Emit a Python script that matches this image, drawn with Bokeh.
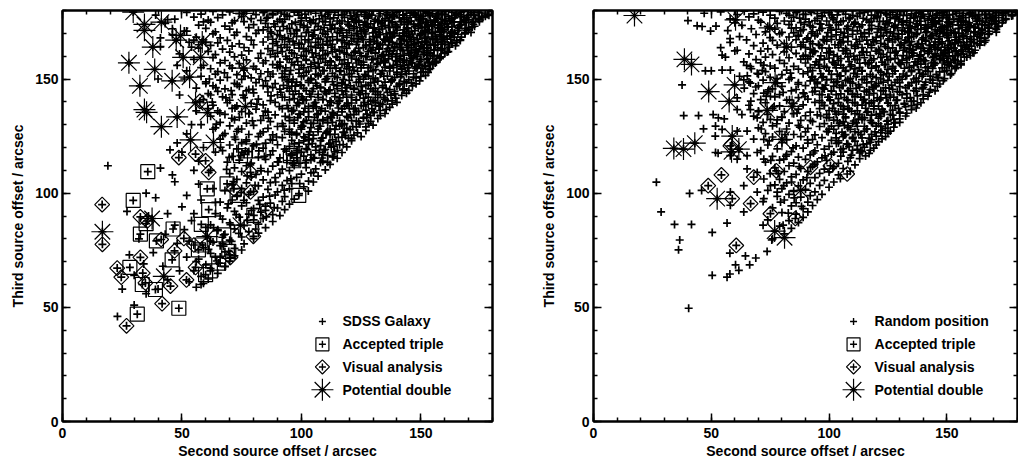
from bokeh.plotting import figure
from bokeh.models import Range1d, LinearAxis, SingleIntervalTicker
from bokeh.layouts import row
from bokeh.embed import file_html
from bokeh.resources import INLINE
from bokeh.core.properties import value

# ---------------- data (arcsec) ----------------
x_label = "Second source offset / arcsec"
y_label = "Third source offset / arcsec"
legend_labels_left = ["SDSS Galaxy", "Accepted triple", "Visual analysis", "Potential double"]
legend_labels_right = ["Random position", "Accepted triple", "Visual analysis", "Potential double"]

# left panel: SDSS galaxies (second offset, third offset)
sdss_sparse = [
    (19,112),(23,46),(30,51),(25,58),(27,92),(35,100),(39,98),(44,91),(50,94),(52,99),(41,111),(46,108),
    (47,105),(41,168),(54,164),(49,143),(45,119),(48,122),(52,126),(55,110),(57,104),(58,97),(54,88),(47,86),
    (43,82),(38,74),(34,69),(30,64),(40,58),(44,62),(49,66),(52,72),(56,70),(58,60),(35,56),(42,68),(48,78),
    (51,84),(55,91),(57,114),(59,120),(58,130),(56,136),(51,150),(48,156),(44,176),(46,172),(39,178),
    (52,171),(55,167),(57,165),(59,175),(60,166),(58,155),(60,148),(62,143),(61,137),(63,128),(64,118),
    (62,110),(63,102),(64,96),(66,90),(65,84),(67,78),(66,72),(68,68),(70,73),(36,90),(32,80),(28,73),
    (60,85),(62,79),(53,79),(50,118),(54,130),(40,150),
]
sdss_dense = [
    (52,179.2),(58,178.4),(63,179.6),(67,178.1),(70,179.4),(74,178.6),(77,179.8),(81,178.2),(84,179.1),(88,178.7),(90,179.7),(93,178.3),(97,179.3),(99,178.0),(103,179.5),(106,178.8),(108,179.9),(111,178.4),(114,179.2),(117,178.1),(119,179.6),(122,178.9),(125,179.4),(127,178.2),(130,179.8),(133,178.6),(136,179.1),(138,178.3),(141,179.7),(144,178.8),(146,179.3),(149,178.0),(152,179.5),(155,178.5),(157,179.9),(160,178.2),(163,179.2),(165,178.7),(168,179.6),(171,178.4),(174,179.3),(177,178.9),
    (47,176.2),(55,177.1),(61,175.8),(65,176.9),(72,175.5),(75,177.3),(79,176.4),(83,175.7),(86,177.0),(91,176.1),(95,177.4),(100,175.6),(102,176.8),(105,175.9),(110,177.2),(112,176.3),(115,175.4),(118,177.0),(121,176.6),(124,175.7),(128,177.3),(131,176.0),(134,175.5),(137,176.9),(139,177.5),(143,176.2),(145,175.3),(148,177.1),(151,176.4),(154,175.8),(156,177.4),(159,176.1),(162,175.6),(164,176.8),(167,177.2),(170,175.9),(173,176.5),(176,177.0),
    (43,174.3),(57,173.6),(62,174.9),(68,173.2),(71,174.6),(76,175.1),(80,173.8),(85,174.4),(89,173.0),(92,175.0),(96,174.1),(101,173.4),(104,174.8),(107,173.1),(109,175.2),(113,173.9),(116,174.5),(120,173.3),(123,174.9),(126,173.7),(129,174.2),(132,175.0),(135,173.5),(138,174.6),(140,173.0),(142,175.1),(147,173.8),(150,174.4),(153,173.2),(156,174.9),(158,173.6),(161,174.1),(164,175.0),(166,173.4),(169,174.7),(172,173.9),
    (51,171.0),(60,172.2),(64,170.6),(70,171.8),(73,170.4),(78,172.5),(82,171.3),(87,170.7),(94,172.0),(98,171.1),(101,172.6),(103,170.5),(108,171.7),(111,170.9),(114,172.3),(117,171.4),(119,170.3),(122,172.1),(125,171.0),(128,172.7),(131,170.8),(134,171.9),(137,170.4),(140,172.4),(143,171.5),(145,170.6),(149,172.2),(152,171.2),(155,170.5),(157,172.5),(160,171.6),(163,170.9),(166,172.0),(169,171.3),(171,170.4),
    (46,169.4),(56,168.3),(63,169.8),(66,168.0),(72,169.2),(77,168.6),(81,170.0),(86,168.4),(90,169.5),(93,168.1),(97,169.9),(100,168.7),(105,169.3),(107,167.9),(110,169.6),(113,168.5),(116,170.0),(119,168.2),(121,169.1),(124,167.8),(127,169.7),(130,168.6),(133,169.4),(136,168.0),(139,169.8),(141,168.9),(144,169.2),(147,168.1),(150,169.6),(153,168.4),(155,167.8),(158,169.3),(161,168.7),(164,169.9),(167,168.3),
    (53,166.1),(59,167.2),(65,165.8),(69,166.9),(74,165.4),(79,167.0),(84,166.2),(88,165.5),(92,167.3),(95,166.4),(99,165.7),(103,167.1),(106,166.0),(109,165.3),(112,166.8),(115,167.4),(118,165.9),(121,166.6),(123,165.2),(126,167.2),(129,166.3),(132,165.6),(135,167.0),(138,166.1),(140,165.4),(143,166.9),(146,167.3),(149,165.8),(152,166.5),(154,165.3),(157,167.1),(160,166.2),(163,165.6),(165,166.8),
    (41,164.2),(57,163.5),(62,164.7),(67,163.1),(71,164.4),(76,163.8),(80,165.0),(86,163.3),(90,164.6),(94,163.9),(97,164.9),(101,163.2),(104,164.3),(108,163.6),(111,164.8),(114,163.0),(117,164.1),(120,165.0),(124,163.4),(127,164.5),(130,163.7),(133,164.9),(136,163.2),(139,164.2),(142,163.8),(145,164.7),(148,163.1),(150,164.4),(153,163.6),(156,164.9),(159,163.3),(162,164.0),
    (49,161.0),(61,162.1),(64,160.7),(70,161.8),(75,160.5),(78,162.3),(83,161.2),(87,160.8),(92,162.0),(96,161.4),(100,160.4),(103,162.4),(106,161.1),(110,160.6),(113,161.9),(116,162.2),(119,160.9),(122,161.6),(125,160.3),(128,162.0),(131,161.3),(134,160.6),(137,162.3),(140,161.0),(143,160.5),(146,161.8),(148,162.4),(151,160.8),(154,161.5),(157,160.4),(160,161.2),
    (55,158.6),(63,159.4),(68,158.1),(72,159.7),(77,158.4),(82,159.1),(85,158.0),(89,159.8),(94,158.7),(98,159.3),(102,158.2),(105,159.6),(108,158.9),(112,158.0),(115,159.5),(118,158.5),(121,159.2),(124,157.9),(127,159.7),(130,158.6),(132,159.1),(135,158.3),(138,159.8),(141,158.8),(144,158.0),(147,159.4),(150,158.5),(153,159.0),(156,157.8),(158,158.9),
    (59,156.0),(66,157.1),(70,155.8),(74,156.7),(80,155.5),(84,157.0),(88,156.3),(91,155.6),(96,157.2),(100,156.1),(104,155.4),(107,156.9),(110,157.3),(114,155.9),(117,156.5),(120,155.3),(123,157.0),(126,156.2),(129,155.7),(132,156.8),(135,157.2),(137,155.5),(140,156.4),(143,155.8),(146,157.1),(149,156.0),(152,155.4),(155,156.6),
    (52,153.6),(62,154.5),(65,153.2),(71,154.8),(76,153.9),(81,154.3),(86,153.1),(90,154.9),(93,153.5),(99,154.2),(102,153.0),(106,154.6),(109,153.7),(112,154.8),(116,153.3),(119,154.4),(122,153.8),(125,154.9),(128,153.2),(131,154.1),(134,153.6),(137,154.7),(140,153.0),(142,154.3),(145,153.5),(148,154.6),(151,153.1),(153,152.9),
    (58,151.2),(64,152.1),(69,150.7),(73,151.9),(79,150.5),(83,152.3),(87,151.1),(92,150.6),(95,152.0),(101,151.4),(104,150.3),(108,152.2),(111,151.0),(115,150.6),(118,151.8),(121,152.4),(124,150.9),(127,151.5),(130,150.4),(133,152.1),(136,151.3),(139,150.7),(142,151.9),(144,152.3),(147,150.8),(150,151.1),
    (60,148.7),(66,149.5),(72,148.1),(75,149.8),(81,148.4),(85,149.2),(89,148.0),(94,149.6),(98,148.6),(103,149.3),(106,148.2),(110,149.7),(113,148.8),(117,148.0),(120,149.4),(123,148.5),(126,149.9),(129,148.3),(132,149.1),(135,148.6),(138,149.5),(141,148.1),(143,149.0),(146,148.4),(148,147.9),
    (56,146.0),(63,147.0),(68,145.7),(74,146.8),(78,145.4),(84,147.1),(88,146.2),(91,145.6),(96,146.9),(100,147.2),(105,145.8),(108,146.4),(112,145.3),(115,147.0),(119,146.1),(122,145.5),(125,146.7),(128,147.2),(131,145.9),(134,146.3),(137,145.4),(140,146.8),(143,145.7),(145,145.0),
    (61,143.6),(65,144.6),(71,143.2),(77,144.8),(80,143.9),(86,144.3),(90,143.1),(95,144.7),(99,143.5),(102,144.9),(107,143.3),(110,144.4),(114,143.7),(117,144.8),(121,143.0),(124,144.2),(127,143.6),(130,144.7),(133,143.2),(136,144.1),(139,143.5),(142,142.8),
    (59,141.0),(67,142.2),(70,140.7),(76,141.8),(82,141.2),(87,140.5),(92,142.0),(97,141.4),(101,140.6),(104,142.3),(109,141.1),(112,140.4),(116,141.7),(119,142.1),(123,140.8),(126,141.6),(129,140.3),(132,141.9),(135,141.2),(138,140.5),(140,139.8),
    (63,138.5),(69,139.6),(73,138.2),(79,139.3),(84,138.7),(89,139.8),(94,138.4),(99,139.2),(103,138.0),(106,139.7),(111,138.6),(115,139.3),(118,138.1),(121,139.5),(125,138.4),(128,139.0),(131,138.3),(134,138.9),(137,137.6),
    (65,136.0),(71,137.1),(75,135.7),(81,136.8),(86,135.5),(92,137.0),(96,136.2),(101,135.6),(105,137.2),(108,136.1),(113,135.4),(117,136.9),(120,137.1),(123,135.8),(127,136.4),(130,135.5),(133,136.2),(135,134.9),
    (62,133.7),(68,134.5),(74,133.2),(78,134.8),(84,133.9),(89,134.3),(95,133.1),(99,134.6),(103,133.4),(107,134.8),(111,133.0),(115,134.2),(119,133.6),(122,134.5),(126,133.2),(129,133.9),(132,132.7),
    (66,131.0),(72,132.1),(77,130.7),(83,131.9),(87,131.3),(92,130.5),(97,132.0),(101,131.2),(105,130.6),(109,132.2),(113,131.0),(117,130.4),(121,131.8),(124,131.3),(128,130.6),(130,129.8),
    (64,128.6),(70,129.5),(75,128.1),(80,129.7),(86,128.4),(90,129.2),(95,128.0),(100,129.6),(104,128.7),(108,129.3),(112,128.1),(116,129.4),(119,128.5),(123,129.0),(127,127.5),
    (68,126.1),(73,127.0),(78,125.7),(84,126.8),(88,125.5),(93,127.1),(98,126.2),(103,125.6),(107,126.9),(111,127.2),(114,125.8),(118,126.5),(122,125.4),(125,124.8),
    (66,123.7),(72,124.6),(77,123.3),(82,124.8),(87,123.5),(92,124.3),(96,123.1),(101,124.7),(105,123.9),(109,124.2),(113,123.4),(117,124.5),(121,123.0),
    (70,121.1),(75,122.1),(80,120.7),(85,121.9),(90,121.2),(95,120.5),(99,122.0),(103,121.4),(108,120.8),(112,121.9),(116,121.2),(119,120.3),
    (67,118.6),(73,119.4),(78,118.2),(84,119.7),(88,118.5),(93,119.3),(98,118.0),(102,119.5),(106,118.8),(110,119.2),(114,118.1),(117,117.8),
    (71,116.1),(76,117.0),(82,115.8),(87,116.8),(91,115.5),(96,117.1),(101,116.2),(105,115.6),(109,116.9),(113,115.9),(115,115.3),
    (69,113.6),(74,114.5),(79,113.2),(85,114.8),(90,113.7),(94,114.3),(99,113.1),(104,114.6),(108,113.4),(112,112.6),
    (72,111.1),(77,112.0),(83,110.8),(88,111.8),(92,110.5),(97,112.1),(102,111.2),(106,110.6),(110,110.2),
    (70,108.6),(75,109.5),(81,108.2),(86,109.4),(91,108.7),(95,109.9),(100,108.3),(104,108.9),(107,107.5),
    (73,106.0),(79,107.1),(84,105.8),(89,106.8),(94,105.5),(98,106.9),(103,105.3),(105,104.9),
    (71,103.6),(77,104.5),(82,103.2),(87,104.6),(92,103.4),(96,104.2),(101,102.8),
    (68,101.2),(75,102.0),(80,100.8),(86,101.7),(90,100.6),(95,101.9),(99,99.8),
    (73,98.6),(78,99.5),(84,98.3),(89,99.2),(93,98.5),(97,97.4),
    (66,96.1),(71,97.0),(77,95.8),(82,96.8),(87,95.6),(92,96.4),(95,95.2),
    (69,93.6),(75,94.4),(80,93.2),(85,94.3),(90,93.5),(93,92.8),
    (64,91.0),(72,92.0),(78,90.8),(83,91.7),(88,90.6),(91,90.2),
    (67,88.6),(74,89.5),(80,88.3),(84,88.9),(88,87.6),
    (62,86.1),(70,87.0),(76,85.8),(82,86.4),(85,84.9),
    (65,83.6),(72,84.4),(78,83.2),(82,82.5),
    (60,81.2),(68,82.0),(75,80.8),(80,80.1),
    (63,78.6),(70,79.4),(76,77.8),
    (59,76.1),(66,77.0),(72,75.8),(75,75.1),
    (62,73.6),(68,74.3),(72,72.6),
    (57,71.1),(64,72.0),(70,70.2),
    (60,68.6),(66,69.3),(68,67.8),
    (55,66.1),(62,67.0),(65,64.9),
    (58,63.6),(61,62.4),(53,61.2),(59,60.5),(56,58.8),
]
sdss_dense_b = [
    (120.5,177.7),(123.5,178.2),(126.5,177.4),(129.5,178.0),(132.5,177.6),(135.5,178.3),(138.5,177.5),(142.5,178.1),(145.5,177.7),(147.5,178.4),(150.5,177.3),(153.5,178.0),(156.5,177.6),(158.5,178.2),(161.5,177.5),(166.5,178.1),(169.5,177.7),(172.5,178.0),(175.5,177.4),(178.5,177.9),
    (119.5,175.0),(122.5,175.6),(126.5,174.9),(130.5,175.3),(133.5,174.7),(136.5,175.5),(141.5,175.1),(144.5,174.6),(149.5,175.4),(152.5,174.8),(155.5,175.2),(158.5,174.5),(160.5,175.4),(163.5,174.9),(168.5,175.5),(171.5,174.7),(174.5,175.1),
    (124.5,172.5),(127.5,173.1),(130.5,172.4),(133.5,173.0),(136.5,172.6),(139.5,173.2),(144.5,172.3),(147.5,172.9),(151.5,172.5),(154.5,173.1),(158.5,172.4),(161.5,173.0),(165.5,172.6),(168.5,172.2),(171.5,172.8),
    (123.5,170.0),(126.5,170.6),(132.5,170.3),(135.5,169.8),(138.5,170.5),(142.5,170.1),(146.5,169.7),(151.5,170.4),(154.5,169.9),(159.5,170.6),(162.5,170.1),(165.5,169.6),(168.5,170.3),
    (125.5,167.5),(131.5,168.1),(134.5,167.4),(137.5,168.0),(141.5,167.6),(145.5,168.2),(148.5,167.3),(151.5,167.9),(156.5,167.5),(159.5,168.1),(162.5,167.4),(166.5,167.2),
    (128.5,165.0),(131.5,165.6),(136.5,164.9),(141.5,165.4),(144.5,164.8),(147.5,165.5),(151.5,165.1),(155.5,164.7),(158.5,165.3),(161.5,164.9),(164.5,164.6),
    (129.5,162.5),(132.5,163.1),(138.5,162.4),(141.5,163.0),(144.5,162.6),(149.5,163.2),(152.5,162.3),(155.5,162.9),(158.5,162.5),(161.5,162.0),
    (133.5,160.0),(136.5,160.6),(139.5,159.9),(145.5,160.4),(148.5,159.8),(152.5,160.5),(155.5,160.1),(158.5,159.7),
    (134.5,157.5),(139.5,158.1),(142.5,157.4),(145.5,158.0),(149.5,157.6),(153.5,157.2),(156.5,157.3),
    (138.5,155.0),(141.5,155.6),(144.5,154.9),(147.5,155.3),(150.5,154.7),(153.5,154.2),
]
sdss_dense_c = [
    (84.5,179.4),(88,178.1),(91.5,178.9),(94,177.6),(98.5,179.2),(101.5,178.4),(104,179.7),(108.5,177.9),(111.5,179.3),(115.5,178.0),(118,178.9),(123,177.6),(126.5,179.2),(128.5,178.4),(133,179.7),(136,177.9),(140,179.3),(142.5,178.0),(147.5,178.9),(151,177.6),(153,179.2),(157.5,178.4),(160.5,179.7),(164.5,177.9),(167,179.3),(172,178.0),(174.5,178.9),(178,178.3),
    (85.5,176.6),(90,175.2),(93,176.1),(97.5,174.9),(100,176.7),(103.5,175.5),(107.5,176.3),(110,175.0),(113.5,176.8),(117,175.4),(121.5,176.2),(124,174.9),(127.5,176.7),(132,175.5),(135,176.3),(138,175.0),(141,176.8),(146,175.4),(149,176.2),(152,174.9),(157,176.7),(160,175.5),(163,176.3),(166.5,175.0),(169,176.8),(172,175.3),(174.5,175.9),
    (86,172.6),(88.5,174.1),(92.5,173.0),(95,172.2),(99.5,173.9),(102.5,172.7),(106,174.2),(109.5,172.5),(112,173.6),(116.5,172.2),(119.5,174.0),(122,172.8),(127,173.9),(130,172.3),(133.5,174.1),(137,172.6),(139.5,173.8),(144,172.4),(147,174.0),(150.5,172.7),(153,173.6),(157.5,172.3),(160,174.1),(163,172.8),(166.5,173.7),(170,172.5),(172.5,173.1),
    (84,171.5),(87.5,170.1),(91,171.2),(95.5,169.9),(98,171.6),(102,170.3),(105.5,171.4),(109,170.0),(112.5,171.7),(115,170.4),(120,171.3),(123,169.9),(126,171.5),(130,170.2),(132.5,171.6),(137,170.1),(140,171.4),(143,170.0),(147.5,171.2),(150,169.9),(153.5,171.5),(156,170.3),(159,171.6),(163,170.1),(165.5,171.2),(168.5,169.8),
    (88,167.4),(91,168.9),(94.5,167.6),(98,168.7),(101.5,167.2),(104.5,168.8),(108,167.5),(111,168.4),(115,167.1),(117.5,168.9),(122,167.6),(125,168.5),(128.5,167.3),(131.5,168.8),(135,167.4),(138,168.6),(142,167.1),(145,168.7),(148.5,167.5),(152,168.4),(155,167.2),(158.5,168.8),(161,167.5),(164,168.3),(166.5,166.9),
    (89.5,166.4),(93,165.0),(96.5,166.6),(100,165.3),(103,166.2),(107,164.9),(110.5,166.5),(113,165.2),(117,166.7),(120,165.4),(123.5,166.3),(127,164.9),(130.5,166.6),(134,165.1),(137,166.4),(141,165.0),(144,166.5),(147,165.2),(150.5,166.3),(154,164.8),(157,166.1),(160,165.3),(163,165.9),
    (88,162.4),(91.5,163.8),(95,162.6),(99,163.5),(102,162.1),(106,163.7),(109,162.5),(112.5,163.9),(116,162.3),(119,163.4),(122.5,162.2),(126,163.8),(129,162.6),(132.5,163.5),(135.5,162.1),(139,163.6),(142.5,162.4),(146,163.7),(149,162.2),(152.5,163.4),(155.5,162.5),(158.5,163.2),(161,161.8),
    (90,161.3),(93.5,159.9),(97,161.1),(101,160.0),(104.5,161.5),(107.5,160.2),(111,161.2),(114.5,159.8),(118,161.4),(121,160.1),(124.5,161.3),(127.5,159.9),(131,161.5),(134.5,160.2),(138,161.0),(141.5,159.8),(145,161.2),(148,160.0),(151.5,161.4),(155,160.1),(158,159.6),
    (91,157.4),(95,158.8),(98.5,157.6),(102,158.6),(105.5,157.3),(109,158.9),(112.5,157.5),(116,158.4),(119.5,157.1),(123,158.7),(126,157.4),(129.5,158.5),(133,157.2),(136.5,158.8),(140,157.6),(143,158.3),(146.5,157.0),(150,158.6),(153,157.4),(156,157.0),
    (90,156.3),(93.5,154.9),(97,156.2),(101,155.0),(104,156.5),(107.5,155.2),(111,156.1),(114.5,154.8),(118,156.4),(121.5,155.1),(125,156.2),(128,154.9),(131.5,156.5),(135,155.2),(138.5,156.0),(142,154.7),(145,156.2),(148.5,155.0),(151.5,155.8),(154,154.6),
    (92,152.4),(95.5,153.8),(99,152.6),(103,153.5),(106,152.1),(109.5,153.7),(113,152.5),(116.5,153.6),(120,152.2),(123.5,153.4),(126.5,152.0),(130,153.7),(133.5,152.4),(137,153.5),(140,152.1),(143.5,153.3),(147,152.3),(150,152.9),(152,151.6),
    (93,151.1),(96.5,149.8),(100,151.0),(104,149.9),(107,151.4),(110.5,150.1),(114,151.2),(117.5,149.7),(121,151.0),(124.5,149.9),(128,151.3),(131,150.0),(134.5,151.2),(138,149.8),(141.5,150.9),(145,149.7),(148,150.5),(149.5,149.2),
    (92.5,147.2),(96,148.6),(99.5,147.4),(103,148.5),(106.5,147.1),(110,148.7),(113.5,147.5),(117,148.4),(120.5,147.0),(124,148.6),(127,147.3),(130.5,148.5),(134,147.1),(137.5,148.7),(141,147.4),(144,148.3),(146.5,147.0),
    (94,146.0),(97.5,144.7),(101,145.9),(104.5,144.6),(108,146.1),(111.5,144.9),(115,145.8),(118.5,144.5),(122,146.0),(125.5,144.8),(129,145.7),(132,144.4),(135.5,145.9),(139,144.6),(142.5,145.2),(144,143.8),
    (93,142.0),(96.5,143.3),(100,142.2),(103.5,143.4),(107,142.0),(110.5,143.5),(114,142.3),(117.5,143.2),(121,141.9),(124.5,143.4),(128,142.1),(131,143.3),(134.5,142.0),(137.5,142.9),(139.5,141.6),
    (95,140.9),(98.5,139.6),(102,140.8),(105.5,139.5),(109,141.0),(112.5,139.8),(116,140.7),(119.5,139.4),(123,140.9),(126.5,139.7),(130,140.6),(133,139.3),(136,140.4),(138,139.0),
    (94.5,137.1),(98,138.4),(101.5,137.2),(105,138.5),(108.5,137.0),(112,138.3),(115.5,137.3),(119,138.6),(122.5,137.1),(126,138.2),(129.5,137.0),(132.5,138.1),(135.5,136.7),
    (96,135.8),(99.5,134.5),(103,135.7),(106.5,134.4),(110,135.9),(113.5,134.7),(117,135.6),(120.5,134.3),(124,135.8),(127.5,134.6),(130.5,135.3),(133,134.0),
    (95,131.8),(98.5,133.1),(102,131.9),(105.5,133.2),(109,131.7),(112.5,133.0),(116,131.8),(119.5,133.1),(123,131.6),(126,132.8),(129,131.5),
    (97,130.7),(100.5,129.4),(104,130.6),(107.5,129.3),(111,130.8),(114.5,129.6),(118,130.5),(121.5,129.2),(124.5,130.3),(127,129.0),
    (96,126.7),(100,128.0),(103.5,126.8),(107,128.1),(110.5,126.6),(114,127.9),(117.5,126.7),(120.5,127.8),(123.5,126.4),
    (98,125.5),(101.5,124.2),(105,125.4),(108.5,124.1),(112,125.6),(115.5,124.4),(118.5,125.2),(121,123.9),
    (97,121.6),(101,122.9),(104.5,121.7),(108,123.0),(111.5,121.5),(114.5,122.6),(117.5,121.3),
    (99,120.4),(102.5,119.1),(106,120.3),(109.5,119.0),(112.5,120.1),(115,118.8),
    (96,116.7),(100,118.0),(104,116.8),(107.5,117.9),(111,116.5),(113.5,116.0),
    (98,115.5),(102,114.2),(105.5,115.3),(109,114.0),(111,113.5),
    (141,179.9),(144,176.9),(147,179.0),(150,176.0),(153,178.6),(156,175.7),(159,178.9),(162,176.4),(165,178.4),(168,175.9),(171,179.2),(174,176.3),(177,177.5),(179.5,179.6),
    (143,173.9),(146,170.9),(149,173.4),(152,170.6),(155,173.7),(158,170.9),(161,172.7),(164,170.3),(167,173.8),(170,171.8),
    (142.5,168.9),(146,166.4),(149.5,169.1),(152.5,166.0),(156,168.6),(159,166.4),(162,168.9),(165,166.0),
    (144,163.9),(147.5,161.4),(151,163.6),(154,161.0),(157,163.7),(160,161.4),
    (146,158.9),(149.5,156.5),(152.5,158.5),(155,156.3),
]
sdss_mid = [
    (61.5,150.0),(64.2,146.2),(67.8,152.7),(70.6,144.9),(73.1,147.6),(76.4,151.3),(79.7,145.5),(82.3,149.9),(85.8,146.8),(88.1,152.2),(91.4,144.2),(94.6,148.8),
    (62.7,139.9),(65.9,135.2),(68.4,141.7),(72.2,137.3),(75.6,142.9),(78.1,134.9),(81.4,139.0),(84.9,135.9),(87.3,142.6),(90.8,137.9),(93.2,133.6),
    (64.4,130.2),(67.1,125.3),(70.9,132.8),(73.6,127.9),(76.9,122.7),(79.5,131.7),(82.8,126.1),(86.2,132.9),(89.6,124.6),(92.3,129.4),(95.1,125.9),
    (66.2,120.1),(69.8,115.7),(72.4,123.6),(75.1,117.9),(78.6,112.4),(81.2,121.3),(84.5,116.1),(87.9,123.2),(90.4,113.7),(93.7,118.4),(96.3,112.8),
    (68.7,110.4),(71.5,105.1),(74.8,100.2),(77.3,107.6),(80.6,103.4),(83.1,109.8),(86.7,98.7),(89.2,104.9),(92.8,101.3),(95.6,106.3),
    (69.4,95.3),(72.7,90.6),(75.9,96.9),(79.1,92.4),(82.6,95.1),(85.3,89.6),(88.6,93.7),
    (63.2,84.9),(66.9,80.7),(70.3,86.2),(73.8,82.4),(77.4,88.1),(80.9,84.3),
    (61.1,75.4),(64.6,70.3),(67.4,76.8),(70.8,78.9),
    (97.4,146.9),(100.6,141.2),(103.9,149.6),(106.2,137.8),(109.7,144.6),(112.1,133.4),(115.8,140.2),(118.3,147.5),(121.9,136.9),(124.6,143.1),(127.3,133.1),(130.9,139.9),
    (96.8,136.3),(99.9,128.7),(103.2,123.3),(106.8,131.9),(110.3,126.2),(113.6,120.6),(116.9,129.9),(119.7,124.1),(98.2,118.8),(101.7,113.3),(105.1,109.1),(108.6,115.4),(99.3,104.2),(102.9,100.9),
]
sdss_triple = [
    (35.7,109.4),(29.6,96.8),(61.2,92.8),(76.6,118.5),(74.5,116.4),(60.6,101.9),(68.9,104.1),(73.1,99.0),
    (82.2,118.5),(95.4,116.4),(96.8,114.2),(98.9,99.0),(80.1,90.3),(32.6,82.1),(35.0,86.7),(46.3,84.3),
    (58.1,86.3),(67.5,81.7),(39.3,79.1),(45.9,70.8),(56.9,75.2),(59.9,64.3),(61.9,66.0),(65.4,69.4),
    (69.6,74.5),(28.2,67.5),(33.4,60.0),(38.9,57.8),(48.7,49.6),(31.3,47.0),(58.5,77.3),
]
sdss_visual = [
    (16.6,95.0),(32.6,89.6),(48.7,115.6),(55.7,117.1),(59.9,114.2),(57.5,140.2),(61.2,109.1),(71.7,101.9),
    (78.7,100.5),(16.7,77.6),(32.6,71.9),(22.9,67.2),(24.6,63.2),(33.6,65.0),(34.7,60.7),(45.2,59.3),
    (41.7,51.6),(26.8,41.9),(51.9,62.0),(46.9,74.7),(50.8,80.2),(55.0,77.3),(41.3,79.7),(55.7,67.5),
    (70.3,71.9),(79.9,81.1),(35.5,87.8),(78.7,109.1),(85.0,92.5),
]
sdss_double = [
    (29.6,179.3),(34.3,173.9),(34.3,171.3),(41.4,174.9),(49.4,169.1),(47.6,167.0),(58.5,166.2),(37.8,164.0),
    (50.5,159.5),(57.8,159.5),(27.8,157.1),(38.6,154.2),(45.9,149.2),(53.2,150.8),(32.4,147.0),(55.7,139.6),
    (34.3,136.6),(35.2,135.4),(48.0,133.4),(60.7,135.3),(41.4,129.1),(53.6,123.3),(63.2,122.2),(75.8,178.7),
    (75.8,154.8),(76.6,137.9),(37.5,88.9),(16.7,83.1),(42.4,63.6),(60.6,81.0),(74.5,86.0),
]

# right panel: random positions
rand_sparse = [
    (34.4,86.3),(41.6,86.3),(36.6,79.5),(36.1,75.2),(50.4,82.8),(56.7,86.9),(57.9,73.7),(60.3,68.6),
    (61.7,66.2),(64.5,72.5),(66.3,68.6),(68.9,71.6),(73.7,74.5),(50.4,64.0),(56.7,63.2),(57.9,64.6),
    (40.4,49.6),(75.7,79.5),(80.5,86.0),(40.1,175.6),(49.7,171.0),(46.1,173.0),(44.0,173.3),(58.0,167.7),
    (37.6,147.4),(47.5,153.6),(38.3,134.0),(44.6,134.0),(50.8,134.4),(53.0,133.0),(55.5,132.5),(46.7,128.2),
    (51.7,125.0),(40.8,99.9),(26.7,104.8),(28.7,91.8),(45.9,101.2),(52.9,117.5),(66.6,155.4),
    (54.6,160.5),(61.0,162.6),(54.6,153.9),(58.1,153.9),(63.8,157.5),(69.5,152.5),(72.3,156.1),(63.8,149.6),
    (66.6,148.2),(72.3,143.8),(75.1,142.4),(61.0,136.6),(66.6,136.6),(69.5,133.0),(75.1,132.3),(51.8,129.4),
    (54.6,127.9),(61.0,127.2),(65.2,127.2),(72.3,123.6),(51.8,117.8),(58.1,116.4),(61.0,114.9),(65.2,116.4),
    (69.5,117.8),(72.3,114.9),(65.2,110.6),(69.5,109.1),(72.3,106.2),(75.1,103.3),(63.8,103.3),(58.1,100.5),
    (58.1,94.7),(63.8,91.8),(69.5,100.5),(72.3,97.6),(78.0,100.5),(80.8,103.3),(80.8,114.9),
]
rand_dense = [
    (47,178.8),(54,179.4),(61,178.2),(64,179.7),(68,178.5),(72,179.3),(75,178.0),(79,179.6),(82,178.7),(86,179.1),(89,178.3),(92,179.8),(95,178.6),(98,179.2),(101,178.1),(104,179.5),(107,178.4),(110,179.9),(113,178.7),(115,179.2),(118,178.0),(121,179.6),(124,178.8),(127,179.3),(129,178.2),(132,179.7),(135,178.5),(138,179.1),(140,178.3),(143,179.8),(146,178.6),(149,179.4),(151,178.1),(154,179.5),(157,178.7),(160,179.2),(162,178.0),(165,179.6),(168,178.4),(171,179.0),(174,178.6),(176,179.5),(179,179.3),
    (58,176.3),(66,177.2),(70,175.8),(77,176.7),(81,175.4),(85,177.1),(90,176.2),(94,175.6),(97,177.3),(102,176.0),(106,175.5),(109,176.9),(112,177.4),(116,175.9),(119,176.5),(123,175.3),(126,177.0),(130,176.2),(133,175.6),(136,176.8),(139,177.2),(142,175.8),(144,176.4),(147,175.3),(150,177.1),(153,176.1),(156,175.5),(158,176.9),(161,177.3),(164,175.7),(167,176.4),(170,175.4),(172,176.9),(175,176.1),
    (52,173.2),(60,174.6),(63,173.5),(71,174.9),(74,173.1),(78,174.4),(83,173.8),(88,174.7),(92,173.3),(96,174.2),(100,173.6),(103,174.8),(108,173.2),(111,174.3),(114,173.7),(117,174.9),(121,173.0),(125,174.4),(128,173.6),(131,174.8),(134,173.3),(137,174.1),(141,173.7),(145,174.6),(148,173.1),(151,174.3),(155,173.6),(157,174.9),(160,173.4),(163,174.0),(166,173.5),(169,174.4),(172,173.2),
    (57,171.2),(67,172.0),(73,170.6),(77,171.8),(80,170.4),(84,172.3),(88,171.1),(93,170.7),(97,172.2),(101,171.4),(105,170.5),(108,171.9),(112,171.1),(115,170.3),(118,172.1),(122,171.5),(126,170.6),(129,172.4),(132,171.0),(135,170.4),(139,171.8),(142,172.3),(146,170.9),(149,171.6),(152,170.3),(155,172.0),(158,171.2),(162,170.6),(165,171.8),(168,170.9),(171,170.5),
    (62,168.6),(69,169.5),(75,168.1),(79,169.8),(83,168.4),(87,169.2),(91,168.0),(95,169.7),(99,168.6),(103,169.3),(106,168.1),(110,169.6),(114,168.5),(117,169.9),(120,168.2),(123,169.1),(127,168.7),(131,169.6),(134,168.3),(137,169.4),(140,168.0),(144,169.2),(147,168.6),(150,169.7),(154,168.3),(157,169.0),(160,168.5),(163,169.5),(166,167.9),
    (58,166.0),(65,167.1),(72,165.7),(76,166.9),(81,165.5),(86,167.2),(89,166.1),(93,165.4),(98,166.8),(101,167.3),(105,165.8),(108,166.5),(112,165.2),(116,167.0),(119,166.3),(122,165.6),(125,166.9),(128,167.3),(132,165.8),(135,166.4),(138,165.3),(141,167.0),(145,166.2),(148,165.5),(151,166.7),(154,167.1),(157,165.9),(160,166.3),(163,165.4),
    (54,163.7),(68,164.6),(74,163.2),(78,164.8),(84,163.9),(88,164.3),(92,163.1),(96,164.7),(100,163.5),(104,164.9),(107,163.3),(111,164.4),(114,163.7),(118,164.8),(121,163.0),(124,164.2),(127,163.6),(130,164.7),(134,163.2),(137,164.1),(140,163.5),(143,164.6),(146,163.1),(149,164.0),(152,163.6),(156,164.5),(159,163.3),(162,162.6),
    (60,162.3),(66,161.0),(71,162.2),(76,160.7),(81,161.9),(86,161.2),(90,160.5),(94,162.0),(99,161.4),(102,160.6),(106,162.3),(109,161.1),(113,160.4),(116,161.8),(120,162.2),(123,160.8),(126,161.6),(129,160.3),(133,161.9),(136,161.3),(139,160.6),(142,162.1),(145,161.0),(148,160.4),(151,161.7),(154,162.2),(157,160.9),(160,160.3),
    (56,159.6),(69,158.5),(73,159.6),(79,158.2),(83,159.3),(88,158.7),(92,159.8),(96,158.4),(100,159.2),(104,158.0),(108,159.7),(111,158.6),(115,159.3),(118,158.1),(122,159.5),(125,158.4),(128,159.0),(131,158.3),(134,159.6),(138,158.8),(141,158.0),(144,159.4),(147,158.5),(150,159.1),(153,158.2),(156,157.8),
    (65,156.0),(71,157.1),(75,155.7),(81,156.8),(85,155.5),(90,157.0),(94,156.2),(98,155.6),(102,157.2),(105,156.1),(109,155.4),(113,156.9),(117,157.1),(120,155.8),(124,156.4),(127,155.5),(130,156.8),(133,157.2),(136,155.9),(139,156.5),(142,155.3),(145,156.7),(149,157.0),(152,155.6),(154,155.0),
    (50,153.6),(67,154.5),(73,153.2),(77,154.8),(82,153.9),(87,154.3),(91,153.1),(96,154.7),(100,153.5),(103,154.9),(107,153.3),(111,154.4),(114,153.7),(118,154.8),(122,153.0),(125,154.2),(128,153.6),(132,154.7),(135,153.2),(138,154.1),(141,153.5),(144,154.6),(147,153.1),(150,153.8),(152,152.4),
    (62,151.2),(70,152.1),(75,150.7),(80,151.9),(84,150.5),(89,152.3),(93,151.1),(97,150.6),(101,152.0),(105,151.4),(109,150.3),(112,152.2),(116,151.0),(120,150.6),(123,151.8),(127,152.3),(130,150.9),(133,151.5),(137,150.4),(140,152.1),(143,151.3),(146,150.7),(149,150.2),
    (66,148.7),(72,149.5),(78,148.1),(83,149.8),(87,148.4),(92,149.2),(95,148.0),(99,149.6),(103,148.6),(107,149.3),(110,148.2),(114,149.7),(118,148.8),(121,148.0),(125,149.4),(128,148.5),(131,149.9),(135,148.3),(138,149.1),(141,148.6),(144,149.5),(147,147.8),
    (64,146.0),(70,147.0),(76,145.7),(80,146.8),(86,145.4),(90,147.1),(94,146.2),(98,145.6),(102,146.9),(106,147.2),(109,145.8),(113,146.4),(117,145.3),(120,147.0),(124,146.1),(127,145.5),(130,146.7),(134,147.2),(137,145.9),(140,146.3),(143,145.4),(145,144.8),
    (68,143.6),(74,144.6),(79,143.2),(84,144.8),(89,143.9),(93,144.3),(97,143.1),(101,144.7),(105,143.5),(108,144.9),(112,143.3),(116,144.4),(119,143.7),(123,144.8),(126,143.0),(130,144.2),(133,143.6),(137,144.7),(140,143.2),(142,142.5),
    (61,141.7),(71,141.0),(77,142.2),(82,140.7),(87,141.8),(91,141.2),(96,140.5),(100,142.0),(104,141.4),(108,140.6),(111,142.3),(115,141.1),(119,140.4),(122,141.7),(126,142.1),(129,140.8),(133,141.6),(136,140.3),(139,139.6),
    (66,138.5),(73,139.6),(79,138.2),(85,139.3),(89,138.7),(94,139.8),(98,138.4),(102,139.2),(106,138.0),(110,139.7),(114,138.6),(117,139.3),(121,138.1),(125,139.5),(128,138.4),(132,139.0),(135,138.3),(137,137.3),
    (70,136.0),(76,137.1),(81,135.7),(87,136.8),(92,135.5),(96,137.0),(100,136.2),(104,135.6),(108,137.2),(112,136.1),(116,135.4),(119,136.9),(123,135.8),(127,136.4),(130,135.5),(133,135.0),
    (63,134.4),(68,133.7),(74,134.5),(80,133.2),(85,134.8),(90,133.9),(95,134.3),(99,133.1),(103,134.6),(107,133.4),(111,134.8),(115,133.0),(118,134.2),(122,133.6),(126,134.5),(130,132.5),
    (72,131.0),(78,132.1),(83,130.7),(88,131.9),(93,131.3),(98,130.5),(102,132.0),(106,131.2),(110,130.6),(114,132.2),(118,131.0),(121,130.4),(125,131.8),(128,130.8),
    (70,128.6),(76,129.5),(82,128.1),(87,129.7),(91,128.4),(96,129.2),(100,128.0),(104,129.6),(108,128.7),(112,129.3),(116,128.1),(120,129.4),(124,128.5),(126,127.2),
    (73,126.1),(79,127.0),(85,125.7),(90,126.8),(94,125.5),(99,127.1),(103,126.2),(107,125.6),(111,126.9),(115,127.2),(118,125.8),(122,126.5),(124,124.8),
    (68,123.7),(76,124.6),(82,123.3),(88,124.8),(93,123.5),(97,124.3),(101,123.1),(106,124.7),(110,123.9),(114,124.2),(118,123.4),(121,122.6),
    (74,121.1),(80,122.1),(86,120.7),(91,121.9),(95,121.2),(100,120.5),(104,122.0),(108,121.4),(112,120.8),(116,121.6),(119,119.7),
    (71,118.6),(78,119.4),(84,118.2),(89,119.7),(94,118.5),(98,119.3),(102,118.0),(106,119.5),(110,118.8),(114,118.2),(117,117.4),
    (76,116.1),(82,117.0),(87,115.8),(92,116.8),(97,115.5),(101,117.1),(105,116.2),(109,115.6),(113,115.1),
    (73,113.6),(79,114.5),(85,113.2),(90,114.8),(95,113.7),(99,114.3),(104,113.1),(108,113.9),(111,112.4),
    (77,111.1),(83,112.0),(88,110.8),(93,111.8),(98,110.5),(102,111.7),(106,110.8),(109,109.6),
    (75,108.6),(81,109.5),(86,108.2),(91,109.4),(96,108.7),(100,109.3),(104,108.0),
    (79,106.0),(84,107.1),(89,105.8),(94,106.8),(98,105.6),(102,104.9),
    (77,103.6),(82,104.5),(87,103.2),(92,104.3),(96,103.4),(100,102.6),
    (74,101.2),(80,102.0),(85,100.8),(90,101.7),(94,100.6),(97,99.5),
    (78,98.6),(83,99.5),(88,98.3),(92,98.9),(95,97.2),
    (72,96.3),(81,97.0),(86,95.8),(91,96.1),(93,94.6),
    (76,93.6),(84,94.4),(89,93.2),(91,91.8),
    (80,91.5),(86,90.8),(89,89.4),(74,88.3),(83,88.0),(87,87.1),
    (79,85.6),(84,84.6),(72,86.0),(81,82.2),(76,80.0),
]
rand_dense_b = [
    (120.5,177.5),(124.5,178.1),(128.5,177.3),(131.5,177.9),(136.5,177.6),(139.5,178.2),(142.5,177.4),(145.5,178.0),(148.5,177.7),(152.5,178.3),(155.5,177.5),(159.5,178.1),(163.5,177.6),(166.5,178.2),(169.5,177.4),(173.5,178.0),(177.5,177.6),
    (121.5,175.1),(125.5,174.6),(129.5,175.4),(134.5,174.8),(138.5,175.3),(143.5,174.7),(146.5,175.5),(150.5,174.9),(154.5,175.2),(159.5,174.6),(162.5,175.3),(166.5,174.9),(170.5,175.2),(173.5,174.6),
    (123.5,172.4),(127.5,172.9),(133.5,172.3),(136.5,172.8),(140.5,172.5),(143.5,173.1),(147.5,172.4),(150.5,172.9),(156.5,172.6),(159.5,173.0),(163.5,172.3),(167.5,172.7),(170.5,172.2),
    (124.5,170.2),(129.5,169.8),(133.5,170.5),(137.5,170.0),(141.5,170.6),(145.5,169.9),(148.5,170.4),(153.5,170.1),(156.5,169.7),(161.5,170.3),(164.5,169.8),(167.5,169.5),
    (129.5,167.6),(133.5,168.0),(139.5,167.3),(143.5,167.9),(146.5,167.5),(150.5,168.1),(155.5,167.4),(158.5,167.8),(161.5,167.2),(164.5,166.6),
    (130.5,165.2),(134.5,164.8),(139.5,165.5),(142.5,164.9),(146.5,165.3),(150.5,164.7),(153.5,165.4),(157.5,164.9),(160.5,164.4),
    (131.5,162.6),(135.5,163.0),(140.5,162.4),(143.5,162.9),(147.5,162.5),(150.5,163.1),(153.5,162.3),(156.5,162.8),(159.5,161.9),
    (135.5,160.1),(138.5,160.5),(144.5,159.9),(147.5,160.4),(150.5,159.8),(154.5,160.3),(157.5,159.6),
    (137.5,157.6),(140.5,158.0),(144.5,157.3),(148.5,157.9),(151.5,157.4),(154.5,157.0),
]
rand_dense_c = [
    (83,178.0),(86.5,179.5),(90,178.3),(92.5,179.2),(97,177.7),(100,179.0),(103.5,178.1),(106,179.6),(110,177.9),(113,178.7),(116.5,179.5),(119.5,177.8),(122,179.1),(126,178.2),(130.5,179.6),(133,177.9),(137,178.8),(139.5,179.7),(144,177.8),(147,179.0),(150,178.1),(154,179.6),(156.5,177.7),(161,178.9),(163.5,178.2),(168,179.5),(170.5,177.9),(175,179.0),(177.5,178.2),
    (84,175.3),(87.5,176.7),(91.5,175.0),(95,176.5),(99,175.4),(101.5,176.8),(105,175.1),(108.5,176.3),(111,174.9),(114.5,176.6),(118,175.3),(120.5,176.9),(124.5,175.1),(128,176.4),(131,175.0),(134.5,176.7),(137.5,175.4),(140.5,176.5),(144.5,175.0),(148,176.8),(151,175.2),(155,176.4),(158,175.0),(162,176.6),(165,175.4),(168.5,176.9),(171,175.2),(174,175.7),
    (86,172.4),(89.5,173.9),(93,172.7),(96.5,174.0),(100.5,172.5),(104,173.7),(107.5,172.2),(110.5,173.9),(113,172.8),(118,173.5),(121,172.1),(124,174.0),(128,172.6),(131.5,173.8),(134.5,172.3),(139,173.6),(141.5,172.5),(145.5,174.1),(149,172.4),(152.5,173.7),(155,172.2),(159,173.9),(161.5,172.6),(165,173.8),(168,172.3),(171.5,172.9),
    (85,170.2),(89,171.6),(92.5,170.0),(96,171.4),(99.5,170.3),(103,171.7),(106.5,170.1),(110,171.3),(113.5,169.9),(117,171.5),(120.5,170.4),(124,171.6),(127.5,170.0),(131,171.4),(134,170.2),(137.5,171.7),(141,170.3),(145,171.5),(148.5,169.9),(151.5,171.3),(155,170.1),(158.5,171.6),(161.5,170.4),(165,171.2),(168,169.8),
    (87,168.8),(90.5,167.5),(94,168.9),(97.5,167.3),(101,168.6),(104.5,167.1),(108,168.7),(111.5,167.4),(115,168.5),(118.5,167.2),(122,168.8),(125.5,167.6),(129,168.4),(132.5,167.0),(136,168.7),(139.5,167.3),(143,168.6),(146.5,167.5),(150,168.9),(153.5,167.2),(157,168.5),(160.5,167.4),(164,168.0),(166.5,166.9),
    (88,165.0),(92,166.4),(95.5,165.2),(99,166.6),(102.5,165.0),(106,166.3),(109.5,164.9),(113,166.5),(116.5,165.3),(120,166.7),(123.5,165.1),(127,166.2),(130.5,164.8),(134,166.4),(137.5,165.2),(141,166.6),(144.5,165.0),(148,166.3),(151.5,165.1),(155,166.5),(158.5,165.2),(161.5,166.0),(164,164.8),
    (90,163.7),(93.5,162.3),(97,163.6),(100.5,162.1),(104,163.8),(107.5,162.5),(111,163.4),(114.5,162.0),(118,163.7),(121.5,162.4),(125,163.5),(128.5,162.2),(132,163.8),(135.5,162.6),(139,163.3),(142.5,162.0),(146,163.6),(149.5,162.3),(153,163.5),(156.5,162.1),(159.5,163.0),(161.5,161.5),
    (89,160.0),(93,161.4),(96.5,160.1),(100,161.5),(103.5,159.9),(107,161.2),(110.5,160.0),(114,161.6),(117.5,160.3),(121,161.3),(124.5,159.8),(128,161.4),(131.5,160.2),(135,161.5),(138.5,160.0),(142,161.2),(145.5,159.9),(149,161.3),(152.5,160.1),(156,161.0),(158.5,159.6),
    (91,158.8),(94.5,157.5),(98,158.7),(101.5,157.3),(105,158.9),(108.5,157.6),(112,158.5),(115.5,157.1),(119,158.8),(122.5,157.4),(126,158.6),(129.5,157.2),(133,158.9),(136.5,157.5),(140,158.4),(143.5,157.0),(147,158.7),(150.5,157.3),(153.5,158.0),(156,156.9),
    (92,155.0),(95.5,156.4),(99,155.1),(102.5,156.5),(106,154.9),(109.5,156.2),(113,155.0),(116.5,156.6),(120,155.3),(123.5,156.3),(127,154.8),(130.5,156.4),(134,155.2),(137.5,156.5),(141,155.0),(144.5,156.1),(148,154.9),(151,155.9),(153.5,154.5),
    (93,153.7),(96.5,152.3),(100,153.6),(103.5,152.1),(107,153.8),(110.5,152.5),(114,153.4),(117.5,152.0),(121,153.7),(124.5,152.4),(128,153.5),(131.5,152.2),(135,153.8),(138.5,152.5),(142,153.3),(145.5,152.0),(149,153.2),(151.5,151.8),
    (94,149.8),(97.5,151.1),(101,149.9),(104.5,151.3),(108,149.7),(111.5,151.0),(115,149.8),(118.5,151.2),(122,150.0),(125.5,151.1),(129,149.6),(132.5,151.2),(136,150.0),(139.5,151.3),(143,149.8),(146.5,150.6),(148.5,149.3),
    (95,148.6),(98.5,147.3),(102,148.5),(105.5,147.1),(109,148.7),(112.5,147.4),(116,148.3),(119.5,147.0),(123,148.6),(126.5,147.3),(130,148.4),(133.5,147.1),(137,148.7),(140.5,147.4),(144,148.2),(146,146.8),
    (94,144.7),(97.5,146.0),(101,144.8),(104.5,146.2),(108,144.6),(111.5,145.9),(115,144.7),(118.5,146.1),(122,144.9),(125.5,146.0),(129,144.5),(132.5,146.1),(136,144.9),(139.5,145.7),(142.5,144.2),
    (96,143.3),(99.5,142.0),(103,143.2),(106.5,141.9),(110,143.4),(113.5,142.1),(117,143.0),(120.5,141.7),(124,143.3),(127.5,142.0),(131,143.1),(134.5,141.8),(137.5,142.6),(140,141.3),
    (97,139.6),(100.5,140.9),(104,139.7),(107.5,141.0),(111,139.5),(114.5,140.8),(118,139.6),(121.5,140.9),(125,139.4),(128.5,140.6),(132,139.3),(135,140.2),(137.5,138.9),
    (98,138.4),(101.5,137.1),(105,138.3),(108.5,136.9),(112,138.5),(115.5,137.2),(119,138.1),(122.5,136.8),(126,138.4),(129.5,137.1),(132.5,137.9),(135,136.6),
    (99,134.5),(102.5,135.8),(106,134.6),(109.5,135.9),(113,134.4),(116.5,135.7),(120,134.5),(123.5,135.6),(127,134.2),(130,135.0),(132.5,133.8),
    (100,133.1),(103.5,131.8),(107,133.0),(110.5,131.6),(114,133.2),(117.5,131.9),(121,132.8),(124.5,131.5),(127.5,132.3),(130,131.0),
    (101,129.4),(104.5,130.7),(108,129.5),(111.5,130.8),(115,129.3),(118.5,130.6),(122,129.4),(125,130.2),(127.5,128.9),
    (102,128.0),(105.5,126.7),(109,127.9),(112.5,126.5),(116,128.1),(119.5,126.8),(122.5,127.6),(125,126.3),
    (103,124.2),(106.5,125.5),(110,124.3),(113.5,125.6),(117,124.1),(120,125.0),(122.5,123.8),
    (104,122.9),(107.5,121.6),(111,122.8),(114.5,121.4),(117.5,122.3),(120,121.1),
    (105,119.1),(108.5,120.4),(112,119.2),(115,120.1),(117.5,118.8),
    (106,118.0),(109.5,116.7),(113,117.6),(115.5,116.3),
    (142,179.8),(145,176.8),(148,179.1),(151,176.2),(154,178.7),(157,175.6),(160,178.8),(163,176.5),(166,178.3),(169,175.8),(172,179.3),(175,176.4),(178,177.8),(179.6,179.7),
    (144,173.8),(147,171.0),(150,173.5),(153,170.5),(156,173.6),(159,171.0),(162,172.6),(165,170.4),(168,173.7),(171,171.7),
    (143.5,169.0),(147,166.3),(150.5,169.2),(153.5,165.9),(157,168.7),(160,166.5),(163,168.8),(166,166.1),
    (145,164.0),(148.5,161.3),(152,163.7),(155,161.1),(158,163.6),(161,161.5),
    (147,159.0),(150.5,156.4),(153.5,158.6),(156,156.2),
]
rand_mid = [
    (65.3,151.4),(68.9,146.5),(71.7,153.8),(74.4,145.3),(77.9,150.2),(80.5,144.1),(83.6,152.6),(86.9,147.7),(89.3,143.6),(92.7,150.8),
    (66.8,140.3),(70.1,135.7),(73.3,142.5),(76.7,137.9),(79.9,133.3),(83.2,140.9),(86.4,135.1),(89.8,142.3),(92.1,131.9),
    (71.2,128.1),(74.6,122.9),(77.8,130.4),(81.3,125.6),(84.7,119.8),(87.6,128.9),(90.9,123.3),(93.4,117.6),
    (75.3,114.4),(78.4,108.7),(81.7,116.2),(84.1,104.9),(87.3,111.6),(90.6,106.8),(93.9,112.7),
    (79.4,96.1),(82.7,91.3),(85.2,97.9),(88.3,94.2),
    (97.1,146.2),(100.4,140.6),(103.7,148.9),(106.3,136.7),(109.9,143.3),(112.4,132.4),(115.6,139.6),(118.9,146.4),(121.6,134.8),(124.3,141.7),(127.8,130.9),
    (96.4,133.8),(99.6,126.9),(103.1,121.8),(106.5,129.7),(110.1,124.4),(113.4,118.6),(98.3,116.3),(101.6,110.9),(104.8,106.4),
]
rand_triple = []
rand_visual = [
    (48.7,103.3),(54.3,108.0),(58.9,97.6),(66.7,95.4),(68.0,107.0),(77.6,109.8),(75.1,91.0),(60.6,77.1),
    (92.1,111.3),(100.6,112.0),(107.7,108.4),(85.7,88.9),(58.1,120.7),
]
rand_double = [
    (17.4,177.8),(60.3,175.9),(74.8,172.4),(38.6,158.6),(41.6,156.4),(48.9,144.5),(59.9,147.4),(57.6,140.2),
    (77.1,148.4),(73.7,136.3),(34.1,119.6),(38.2,119.3),(43.0,121.9),(58.9,125.0),(61.7,119.3),(58.6,118.1),
    (52.5,97.6),(80.0,123.6),(82.0,164.0),(84.3,138.0),(87.9,101.2),(76.9,83.4),(81.1,80.5),
]

# ---------------- layout / style constants ----------------
FONT = "Liberation Sans"
BLACK = "#000000"
LEG_ROWS_Y = [43.8, 33.8, 23.9, 13.9]      # legend rows (data units of panel)


def style_axis(ax, labels=True):
    ax.ticker = SingleIntervalTicker(interval=50, num_minor_ticks=5)
    ax.axis_line_color = BLACK
    ax.axis_line_width = 2
    ax.major_tick_in = 8
    ax.major_tick_out = 0
    ax.minor_tick_in = 4
    ax.minor_tick_out = 0
    ax.major_tick_line_color = BLACK
    ax.minor_tick_line_color = BLACK
    ax.major_tick_line_width = 1.5
    ax.minor_tick_line_width = 1.5
    if labels:
        ax.major_label_text_font = FONT
        ax.major_label_text_font_style = "bold"
        ax.major_label_text_font_size = "14px"
        ax.major_label_text_color = BLACK
        ax.axis_label_text_font = FONT
        ax.axis_label_text_font_style = "bold"
        ax.axis_label_text_font_size = "14px"
        ax.axis_label_text_color = BLACK
    else:
        ax.major_label_text_color = None
        ax.major_label_text_font_size = "1px"
        ax.major_label_standoff = 0
        ax.axis_label = None


def make_panel(gal, triple, visual, double, leg_labels, width, border_right, leg_x, leg_tx):
    p = figure(width=width, height=461, output_backend="svg", toolbar_location=None,
               x_range=Range1d(0, 180), y_range=Range1d(0, 180),
               min_border_left=62, min_border_right=border_right,
               min_border_top=10, min_border_bottom=36,
               x_axis_label=x_label, y_axis_label=y_label)
    p.grid.visible = False
    p.outline_line_color = BLACK
    p.outline_line_width = 2
    p.background_fill_color = "white"
    p.border_fill_color = "white"
    style_axis(p.xaxis[0])
    style_axis(p.yaxis[0])
    p.xaxis[0].major_label_standoff = 6
    p.yaxis[0].major_label_standoff = 4
    p.xaxis[0].axis_label_standoff = 2
    p.yaxis[0].axis_label_standoff = 6
    top = LinearAxis()
    style_axis(top, labels=False)
    p.add_layout(top, "above")
    right = LinearAxis()
    style_axis(right, labels=False)
    p.add_layout(right, "right")

    specials = triple + visual + double
    allp = gal + specials
    p.scatter([a for a, b in allp], [b for a, b in allp], marker="cross", size=8,
              line_color=BLACK, line_width=1.7)
    if triple:
        p.scatter([a for a, b in triple], [b for a, b in triple], marker="square", size=14,
                  fill_color=None, line_color=BLACK, line_width=1.2)
    p.scatter([a for a, b in visual], [b for a, b in visual], marker="square", angle=0.785398,
              size=10.5, fill_color=None, line_color=BLACK, line_width=1.2)
    p.scatter([a for a, b in double], [b for a, b in double], marker="asterisk", size=22,
              line_color=BLACK, line_width=1.2)

    # legend keys
    p.scatter([leg_x] * 4, LEG_ROWS_Y, marker="cross", size=7, line_color=BLACK, line_width=1.4)
    p.scatter([leg_x], [LEG_ROWS_Y[1]], marker="square", size=13, fill_color=None,
              line_color=BLACK, line_width=1.2)
    p.scatter([leg_x], [LEG_ROWS_Y[2]], marker="square", angle=0.785398, size=10,
              fill_color=None, line_color=BLACK, line_width=1.2)
    p.scatter([leg_x], [LEG_ROWS_Y[3]], marker="asterisk", size=22, line_color=BLACK, line_width=1.2)
    p.text([leg_tx] * 4, LEG_ROWS_Y, text=leg_labels, text_font=value(FONT),
           text_font_style="bold", text_font_size="14px", text_baseline="middle",
           text_align="left", text_color=BLACK)
    return p


left = make_panel(sdss_sparse + sdss_dense + sdss_dense_b + sdss_dense_c + sdss_mid, sdss_triple,
                  sdss_visual, sdss_double, legend_labels_left, 531, 39, 108.8, 117.2)
right = make_panel(rand_sparse + rand_dense + rand_dense_b + rand_dense_c + rand_mid, rand_triple,
                   rand_visual, rand_double, legend_labels_right, 487, 1, 110.4, 119.3)

layout = row(left, right)
open("out.html", "w").write(file_html(layout, INLINE))
